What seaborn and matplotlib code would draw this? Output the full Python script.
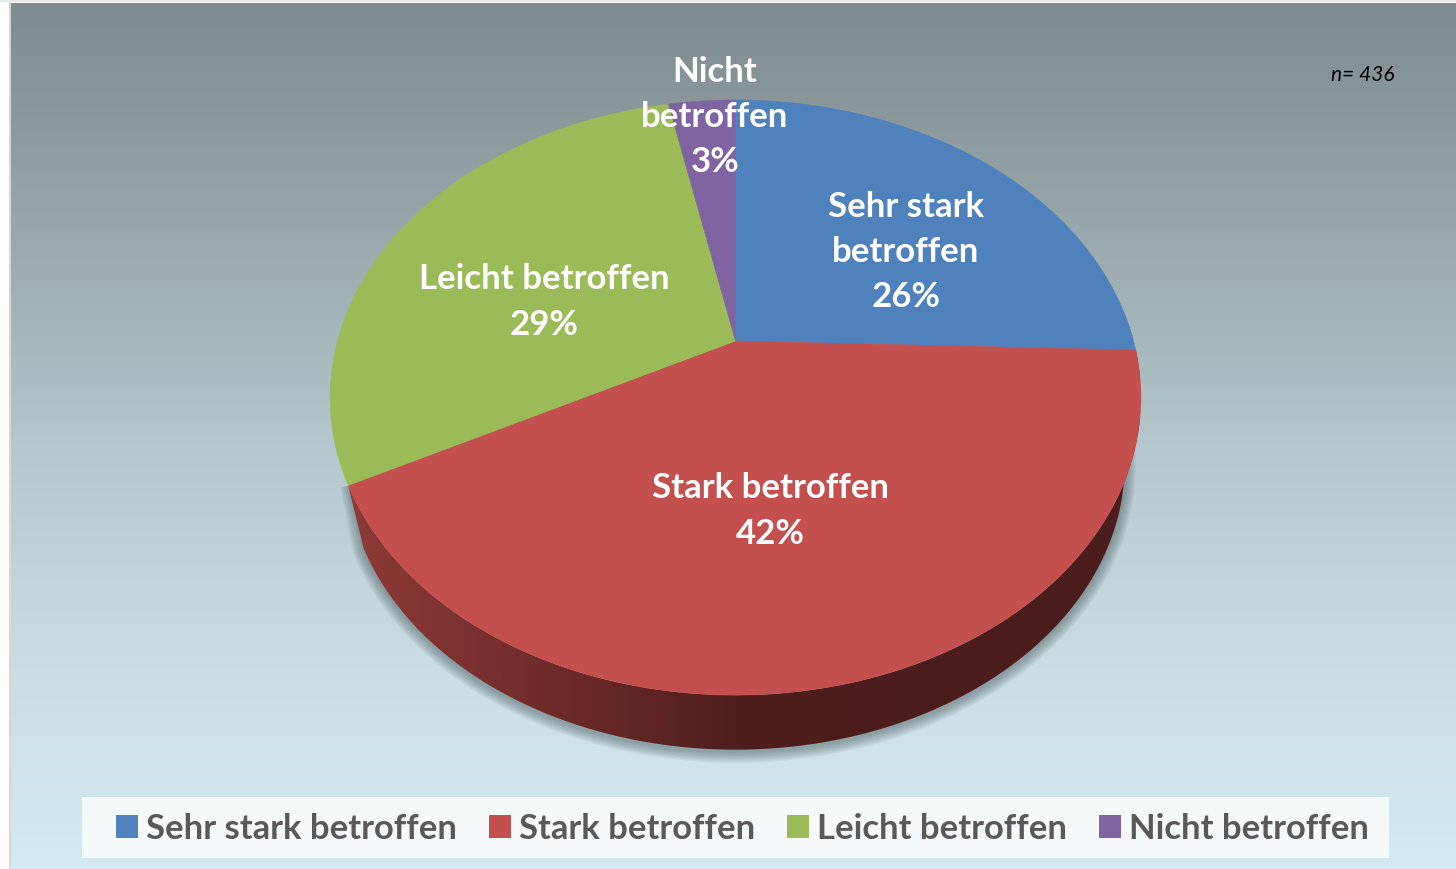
import numpy as np
import matplotlib
matplotlib.use("Agg")
import matplotlib.pyplot as plt
from matplotlib.patches import Polygon, Rectangle, Patch
import seaborn as sns

# values, printed labels are the rounded ones
categories = ["Sehr stark betroffen", "Stark betroffen", "Leicht betroffen", "Nicht betroffen"]
slice_labels = ["Sehr stark\nbetroffen", "Stark betroffen", "Leicht betroffen", "Nicht\nbetroffen"]
values = [25.5, 41.9, 29.4, 3.2]
colors = ["#4f81bd", "#c3504f", "#9bbb59", "#8064a2"]
label_pos = [(906, 252), (770, 511), (544, 302), (715, 117)]
n_text = "n= 436"

sns.set_theme(style="white")
plt.rcParams["font.family"] = ["Lato", "DejaVu Sans"]
palette = sns.color_palette(colors)

fig = plt.figure(figsize=(14.56, 8.7), dpi=100, facecolor="white")
ax = fig.add_axes([0, 0, 1, 1])
ax.set_xlim(0, 1456)
ax.set_ylim(870, 0)
ax.axis("off")

# pie geometry in pixels, perspective disc with the apex above the ellipse centre
cx, apex_y, ell_y = 735.5, 342.0, 398.5
persp, A, B = 0.19, 398.0, 286.8
depth_scale, depth_shift = 0.96, 66.5


def top_edge(t):
    w = 1 + persp * np.cos(t)
    return cx + A * np.sin(t) / w, apex_y - B * np.cos(t) / w


def bottom_edge(t):
    x, y = top_edge(t)
    return cx + depth_scale * (x - cx), ell_y + depth_scale * (y - ell_y) + depth_shift


# background
bg_cmap = sns.blend_palette(["#7e8b8f", "#97a6aa", "#b3c6cb", "#c8dce2", "#d5e9f0"], as_cmap=True)
ax.imshow(np.linspace(0, 1, 256).reshape(-1, 1), cmap=bg_cmap, aspect="auto",
          extent=(11, 1456, 870, 4), zorder=0)
ax.add_patch(Rectangle((9, 3), 2, 867, fc="#d6d6d6", ec="none", zorder=1))
ax.add_patch(Rectangle((0, 1), 1456, 2, fc="#e9e9e9", ec="none", zorder=1))
ax.set_xlim(0, 1456)
ax.set_ylim(870, 0)

fractions = np.array(values) / np.sum(values)
edges = np.concatenate([[0], np.cumsum(fractions)]) * 2 * np.pi

# soft shadow under the rim, follows the straight left end of the rim up to the top face
t_rim = np.linspace(edges[1] - 0.1, edges[2], 240)
bx, by = bottom_edge(t_rim)
end_x, end_y = top_edge(edges[2])
bx = np.r_[bx, end_x + 3]
by = np.r_[by, end_y - 2]
for lw in np.linspace(16, 2, 8):
    ax.plot(bx, by + 2, color="#44545a", lw=lw, alpha=0.07, zorder=2,
            solid_capstyle="butt", solid_joinstyle="round")

# rim of the red slice
t_side = np.linspace(edges[1], edges[2], 300)
tx, ty = top_edge(t_side)
bx, by = bottom_edge(t_side)
side = Polygon(np.r_[np.c_[tx, ty], np.c_[bx, by][::-1]], fc="none", ec="none", zorder=3)
ax.add_patch(side)
side_cmap = sns.blend_palette(["#8f3b37", "#702c2b", "#4f1e1d", "#4b1d1c", "#4b1d1c"], as_cmap=True)
rim = ax.imshow(np.linspace(0, 1, 512).reshape(1, -1), cmap=side_cmap, aspect="auto",
                extent=(340, 1140, 770, 340), zorder=3)
rim.set_clip_path(side)
ax.set_xlim(0, 1456)
ax.set_ylim(870, 0)

# top faces
for i, col in enumerate(palette):
    t = np.linspace(edges[i], edges[i + 1], 200)
    x, y = top_edge(t)
    pts = np.r_[[[cx, apex_y]], np.c_[x, y]]
    ax.add_patch(Polygon(pts, fc=col, ec=col, lw=0.4, zorder=4))

# slice labels
for lab, val, (lx, ly) in zip(slice_labels, values, label_pos):
    ax.text(lx, ly, f"{lab}\n{np.round(val):.0f}%", color="white", fontsize=25, fontweight="bold",
            ha="center", va="center", linespacing=1.51, zorder=5)

ax.text(1363, 75, n_text, color="black", fontsize=15, fontstyle="italic",
        ha="center", va="center", zorder=5)

# legend
ax.add_patch(Rectangle((82, 797.5), 1307, 61, fc="white", ec="none", alpha=0.78, zorder=5))
fs = 24.9
px = fs * 100 / 72
handles = [Patch(fc=c, ec="none") for c in palette]
ax.legend(handles, categories, ncol=4, frameon=False, fontsize=fs,
          prop={"size": fs, "weight": "bold"}, labelcolor="#595959",
          loc="center left", bbox_to_anchor=(116 / 1456, 1 - 829.5 / 870),
          borderpad=0, borderaxespad=0, handlelength=22 / px, handleheight=22 / px,
          handletextpad=8 / px, columnspacing=32 / px).set_zorder(6)

fig.savefig("out.png", dpi=100, facecolor="white")
